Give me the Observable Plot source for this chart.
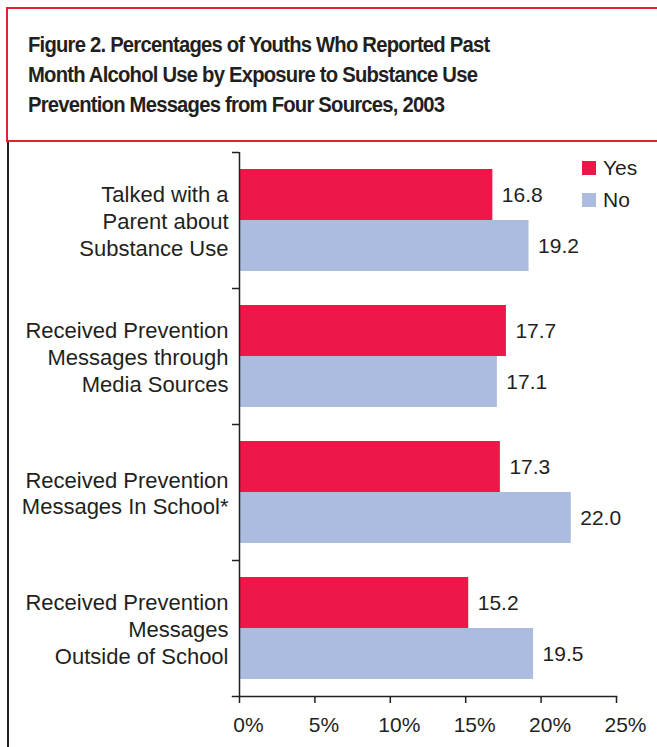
<!DOCTYPE html>
<html>
<head>
<meta charset="utf-8">
<script src="https://cdn.jsdelivr.net/npm/d3@7"></script>
<script src="https://cdn.jsdelivr.net/npm/@observablehq/plot@0.6"></script>
<style>
  html, body { margin: 0; padding: 0; background: #fff; }
  body { width: 657px; height: 747px; position: relative; overflow: hidden; font-family: "Liberation Sans", Arial, Helvetica, sans-serif; color: #231f20; }
  #box { position: absolute; left: 6px; top: 7px; width: 700px; height: 131px; border: 2px solid #e4222f; }
  #title { position: absolute; left: 20px; top: 21px; font-weight: bold; font-size: 22px; line-height: 30px; letter-spacing: -0.85px; white-space: nowrap; transform: scaleX(0.92); transform-origin: 0 0; }
  #leftline { position: absolute; left: 7px; top: 142px; width: 2px; bottom: 0; background: #231f20; }
  #chart { position: absolute; left: 0; top: 142px; }
  #legend { position: absolute; left: 582px; top: 156px; font-size: 21px; }
  #legend .row { display: flex; align-items: center; height: 24px; margin-bottom: 8px; }
  #legend .sw { width: 14px; height: 14px; margin-right: 7px; }
</style>
</head>
<body>
<div id="box"><div id="title"></div></div>
<div id="leftline"></div>
<div id="chart"></div>
<div id="legend"></div>
<script>
const titleLines = [
  "Figure 2. Percentages of Youths Who Reported Past",
  "Month Alcohol Use by Exposure to Substance Use",
  "Prevention Messages from Four Sources, 2003"
];
const categories = [
  "Talked with a\nParent about\nSubstance Use",
  "Received Prevention\nMessages through\nMedia Sources",
  "Received Prevention\nMessages In School*",
  "Received Prevention\nMessages\nOutside of School"
];
const answers = ["Yes", "No"];
const yesValues = [16.8, 17.7, 17.3, 15.2];
const noValues = [19.2, 17.1, 22.0, 19.5];
const colors = ["#ee1749", "#abbcde"];
const xTicks = [0, 5, 10, 15, 20, 25];

const ink = "#231f20";
const data = categories.flatMap((c, i) => [
  {category: c, answer: "Yes", value: yesValues[i]},
  {category: c, answer: "No", value: noValues[i]}
]);

d3.select("#title").selectAll("div").data(titleLines).join("div").text(d => d);

const legend = d3.select("#legend").selectAll("div.row").data(answers).join("div").attr("class", "row");
legend.append("div").attr("class", "sw").style("background", (d, i) => colors[i]);
legend.append("span").text(d => d);

const chart = Plot.plot({
  width: 657,
  height: 605,
  marginLeft: 239,
  marginRight: 41,
  marginTop: 10,
  marginBottom: 51,
  style: {fontFamily: '"Liberation Sans", Arial, sans-serif', fontSize: "21px", color: ink, background: "transparent", overflow: "visible"},
  x: {domain: [0, 25], ticks: xTicks},
  y: {domain: answers, paddingInner: 0, paddingOuter: 0.32, axis: null},
  fy: {domain: categories, padding: 0},
  color: {domain: answers, range: colors},
  marks: [
    Plot.barX(data, {x: "value", y: "answer", fy: "category", fill: "answer"}),
    Plot.ruleX([0], {stroke: ink, strokeWidth: 1.5}),
    Plot.text(data, {x: "value", y: "answer", fy: "category", text: d => d.value.toFixed(1), dx: 9, textAnchor: "start", fill: ink, fontSize: 21}),
    Plot.axisFy({anchor: "left", tickSize: 0, tickPadding: 11, lineHeight: 1.21, fill: ink, fontSize: 22, label: null, textAnchor: "end"}),
    Plot.axisFy({anchor: "left", tickSize: 7, tickFormat: () => "", dy: -68, stroke: ink, strokeWidth: 1.5, label: null}),
    Plot.axisX({anchor: "bottom", tickSize: 7, tickFormat: () => "", stroke: ink, strokeWidth: 1.5, label: null}),
    Plot.axisX({anchor: "bottom", tickSize: 0, tickPadding: 21, tickFormat: d => d + "%", dx: 9, fill: ink, fontSize: 21, label: null}),
    Plot.frame({anchor: "bottom", facetAnchor: "bottom", insetLeft: -7, stroke: ink, strokeWidth: 1.5})
  ]
});
document.getElementById("chart").appendChild(chart);
</script>
</body>
</html>
